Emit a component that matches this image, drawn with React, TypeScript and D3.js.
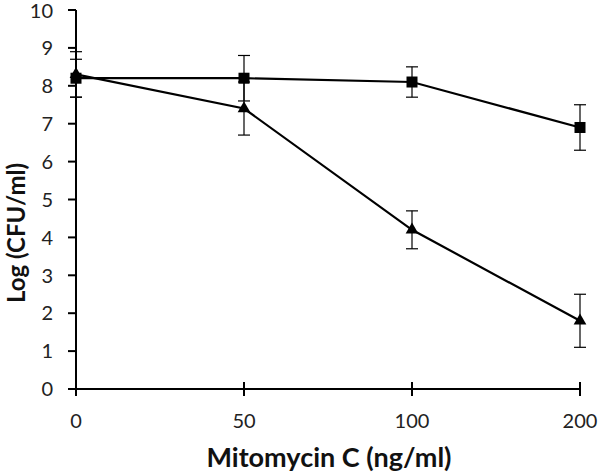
import React from "react";
import * as d3 from "d3";

const categories = ["0", "50", "100", "200"];
const squareValues = [8.2, 8.2, 8.1, 6.9];
const squareErrors = [0.5, 0.6, 0.4, 0.6];
const triangleValues = [8.3, 7.4, 4.2, 1.8];
const triangleErrors = [0.6, 0.7, 0.5, 0.7];
const yTicks = [0, 1, 2, 3, 4, 5, 6, 7, 8, 9, 10];

const W = 600;
const H = 474;
const left = 76;
const right = 580;
const top = 10;
const bottom = 389;
const font = "Lato, 'Open Sans', sans-serif";

export default function App() {
  const x = d3.scalePoint<string>().domain(categories).range([left, right]);
  const y = d3.scaleLinear().domain([0, 10]).range([bottom, top]);
  const line = d3
    .line<number>()
    .x((_, i) => x(categories[i]) as number)
    .y((d) => y(d));

  const series = [
    { values: squareValues, errors: squareErrors, shape: "square" },
    { values: triangleValues, errors: triangleErrors, shape: "triangle" },
  ];
  const tri = d3.symbol(d3.symbolTriangle, 70)() as string;

  return (
    <svg
      width={W}
      height={H}
      style={{ position: "absolute", left: 0, top: 0, background: "#fff" }}
    >
      <rect width={W} height={H} fill="#fff" />
      {/* error bars */}
      {series.map((s, si) =>
        s.values.map((v, i) => {
          const cx = x(categories[i]) as number;
          const y1 = y(v + s.errors[i]);
          const y2 = y(v - s.errors[i]);
          return (
            <g key={`e${si}-${i}`} stroke="#000" strokeWidth={1.2}>
              <line x1={cx} x2={cx} y1={y1} y2={y2} />
              <line x1={cx - 6} x2={cx + 6} y1={y1} y2={y1} />
              <line x1={cx - 6} x2={cx + 6} y1={y2} y2={y2} />
            </g>
          );
        })
      )}
      {/* axes */}
      <g stroke="#000" strokeWidth={2}>
        <line x1={left} x2={left} y1={top} y2={bottom} />
        <line x1={left} x2={right} y1={bottom} y2={bottom} />
        {yTicks.map((t) => (
          <line key={`yt${t}`} x1={left - 8} x2={left} y1={y(t)} y2={y(t)} />
        ))}
        {categories.map((c) => (
          <line
            key={`xt${c}`}
            x1={x(c) as number}
            x2={x(c) as number}
            y1={bottom - 7}
            y2={bottom + 7}
          />
        ))}
      </g>
      {yTicks.map((t) => (
        <text
          key={`yl${t}`}
          x={53}
          y={Math.max(y(t), 11)}
          dy="0.36em"
          textAnchor="end"
          fontFamily={font}
          fontSize={20}
          fill="#222"
        >
          {t}
        </text>
      ))}
      {categories.map((c) => (
        <text
          key={`xl${c}`}
          x={x(c) as number}
          y={421}
          dy="0.36em"
          textAnchor="middle"
          fontFamily={font}
          fontSize={20}
          fill="#222"
        >
          {c}
        </text>
      ))}
      {/* lines */}
      {series.map((s, si) => (
        <path
          key={`l${si}`}
          d={line(s.values) as string}
          fill="none"
          stroke="#000"
          strokeWidth={2.2}
        />
      ))}
      {/* markers */}
      {squareValues.map((v, i) => (
        <rect
          key={`sq${i}`}
          x={(x(categories[i]) as number) - 5.5}
          y={y(v) - 5.5}
          width={11}
          height={11}
          fill="#000"
        />
      ))}
      {triangleValues.map((v, i) => (
        <path
          key={`tr${i}`}
          d={tri}
          transform={`translate(${x(categories[i])},${y(v)})`}
          fill="#000"
        />
      ))}
      <text
        x={329}
        y={467}
        textAnchor="middle"
        fontFamily={font}
        fontSize={27}
        fontWeight="bold"
        fill="#111"
      >
        Mitomycin C (ng/ml)
      </text>
      <text
        transform={`translate(25,233) rotate(-90)`}
        textAnchor="middle"
        fontFamily={font}
        fontSize={24}
        fontWeight="bold"
        fill="#111"
      >
        Log (CFU/ml)
      </text>
    </svg>
  );
}
